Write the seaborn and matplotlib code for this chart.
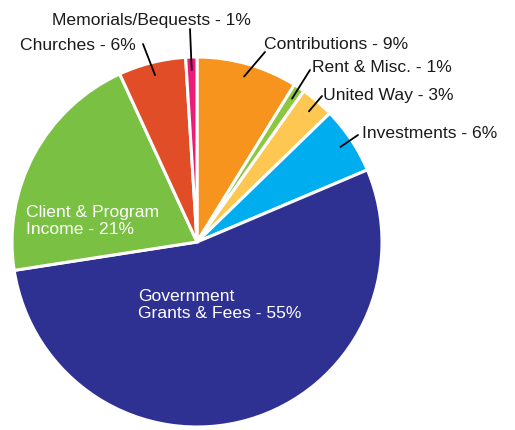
import numpy as np
import matplotlib
matplotlib.use("Agg")
import matplotlib.pyplot as plt
import seaborn as sns

categories = ["Contributions", "Rent & Misc.", "United Way", "Investments",
              "Government\nGrants & Fees", "Client & Program\nIncome",
              "Churches", "Memorials/Bequests"]
values = [9, 1, 3, 6, 55, 21, 6, 1]
colors = ["#F7941D", "#8DC63F", "#FDC752", "#00AEEF",
          "#2E3192", "#7AC143", "#E14D27", "#EC1A78"]

sns.set_theme(style="white")
plt.rcParams['font.family'] = ['Liberation Sans', 'DejaVu Sans']

W, H = 515, 430
cx, cy, R = 197, 242, 185
FS = 12.6


def px(x, y):
    # pixel position -> data units (pie radius = 1)
    return (x - cx) / R, (cy - y) / R


fig = plt.figure(figsize=(W / 100, H / 100), dpi=100)
ax = fig.add_axes([0, 0, 1, 1])
wedges, _ = ax.pie(values, colors=colors, startangle=90, counterclock=False,
                   radius=1, wedgeprops=dict(edgecolor="white", linewidth=2.2))
ax.set_aspect("auto")
ax.set_xlim(-cx / R, (W - cx) / R)
ax.set_ylim(-(H - cy) / R, cy / R)
ax.axis("off")

# outside labels: (text anchor in px, line start in px)
outside = {
    0: ((264, 44), (265, 52), "Contributions - 9%"),
    1: ((312, 67), (310, 70), "Rent & Misc. - 1%"),
    2: ((323, 95), (322, 96), "United Way - 3%"),
    3: ((362, 133), (358, 135), "Investments - 6%"),
    6: ((20, 45), (143, 44), "Churches - 6%"),
    7: ((52, 20), (190, 29), "Memorials/Bequests - 1%"),
}
for i, (tpos, lpos, txt) in outside.items():
    w = wedges[i]
    ang = np.deg2rad((w.theta1 + w.theta2) / 2)
    ex, ey = 0.93 * np.cos(ang), 0.93 * np.sin(ang)
    tx, ty = px(*tpos)
    ax.text(tx, ty, txt, ha="left", va="center", fontsize=FS, color="#1a1a1a")
    lx, ly = px(*lpos)
    ax.plot([lx, ex], [ly, ey], color="black", lw=1.3)

for i, pos in [(5, (26, 221)), (4, (138, 305))]:
    v = values[i]
    tx, ty = px(*pos)
    ax.text(tx, ty, f"{categories[i]} - {v}%", ha="left", va="center",
            fontsize=FS, color="white", linespacing=1.2)

fig.savefig("out.png", dpi=100)
